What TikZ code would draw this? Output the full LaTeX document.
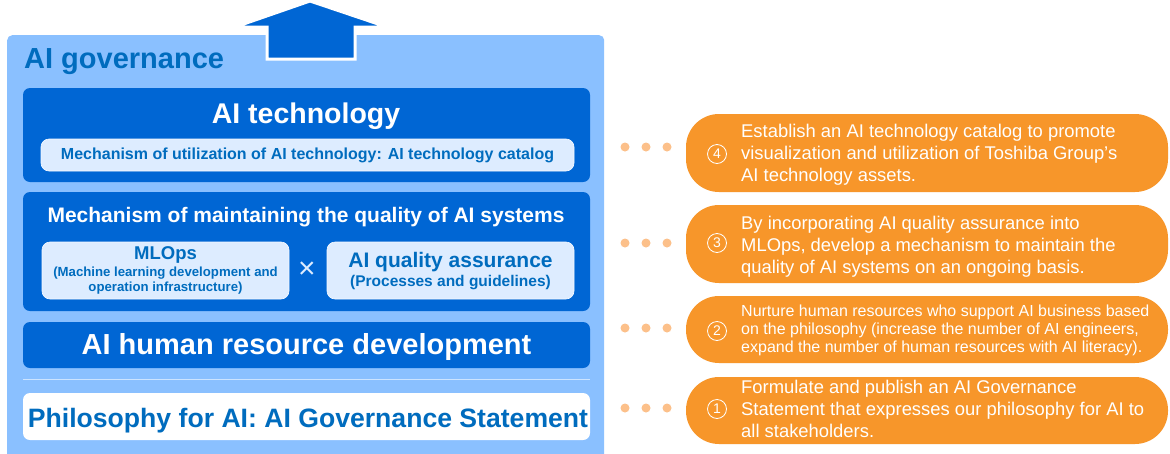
\documentclass[tikz,border=0pt]{standalone}
\usepackage{fontspec}
\setmainfont{Liberation Sans}
\definecolor{govlight}{RGB}{138,192,255}
\definecolor{govdark}{RGB}{0,102,212}
\definecolor{govtext}{RGB}{0,108,190}
\definecolor{govpale}{RGB}{221,236,255}
\definecolor{pillor}{RGB}{247,150,42}
\definecolor{dotor}{RGB}{252,192,138}
\definecolor{sepline}{RGB}{205,228,255}
\begin{document}
\begin{tikzpicture}[x=1pt,y=-1pt,
  darkbox/.style={fill=govdark, rounded corners=7pt, inner sep=0pt, minimum width=567pt},
  palebox/.style={fill=govpale, draw=white!70!govpale, line width=0.6pt, rounded corners=8pt, inner sep=0pt},
  whitebox/.style={fill=white, rounded corners=7pt, inner sep=0pt, minimum width=567pt},
  pill/.style={fill=pillor, rounded corners=33pt, inner sep=0pt, minimum width=482pt},
  pilltext/.style={text=white, anchor=west, align=left, inner sep=0pt},
  numcirc/.style={circle, draw=white, line width=0.8pt, text=white, minimum size=19pt, inner sep=0pt, font=\fontsize{14}{14}\selectfont},
  orangedot/.style={circle, fill=dotor, minimum size=9pt, inner sep=0pt},
  btext/.style={inner sep=0pt, align=center}
]
\useasboundingbox (0,0) rectangle (1170,453);
\fill[white] (0,0) rectangle (1170,453);

% outer AI governance area
\node[fill=govlight, rounded corners=5pt, inner sep=0pt, minimum width=597pt, minimum height=440pt, anchor=north west] (gov) at (7,35) {};
\node[btext, anchor=base west, text=govtext, font=\bfseries\fontsize{29}{30}\selectfont] (govtitle) at (24,68) {AI governance};

% upward arrow
\filldraw[fill=govdark, draw=white, line width=3pt, line join=miter]
  (267,59) -- (267,27) -- (235,27) -- (310,1) -- (387,27) -- (355,27) -- (355,59) -- cycle;

% AI technology block
\node[darkbox, minimum height=94pt] (tech) at (306.5,135) {};
\node[btext, anchor=base, text=white, font=\bfseries\fontsize{28.5}{30}\selectfont] (techtitle) at (306,123) {AI technology};
\node[palebox, minimum width=533pt, minimum height=32pt] (catalog) at (307.5,155) {};
\node[btext, text=govtext, font=\bfseries\fontsize{16}{18}\selectfont] (catalogtext) at (catalog) {Mechanism of utilization of AI technology: AI technology catalog};

% quality block
\node[darkbox, minimum height=119pt] (quality) at (306.5,251.5) {};
\node[btext, anchor=base, text=white, font=\bfseries\fontsize{21}{23}\selectfont] (qualitytitle) at (306,222) {Mechanism of maintaining the quality of AI systems};
\node[palebox, minimum width=247pt, minimum height=57pt] (mlops) at (165.5,270.5) {};
\node[palebox, minimum width=247pt, minimum height=57pt] (aiqa) at (450.5,270.5) {};
\node[btext, text=govtext, font=\bfseries\fontsize{18.5}{20}\selectfont] (mlopstitle) at (165.5,255) {MLOps};
\node[btext, text=govtext, font=\bfseries\fontsize{13.2}{15}\selectfont] (mlopssub) at (165.5,281) {(Machine learning development and\\operation infrastructure)};
\node[btext, text=govtext, font=\bfseries\fontsize{21}{23}\selectfont] (aiqatitle) at (450.5,262) {AI quality assurance};
\node[btext, text=govtext, font=\bfseries\fontsize{15.5}{17}\selectfont] (aiqasub) at (450.5,283) {(Processes and guidelines)};
\node[btext, text=govpale, font=\fontsize{30}{30}\selectfont] (times) at (307,270) {×};

% human resource block
\node[darkbox, minimum height=46pt] (hr) at (306.5,345) {};
\node[btext, anchor=base, text=white, font=\bfseries\fontsize{29}{30}\selectfont] (hrtitle) at (306.5,354) {AI human resource development};

% separator
\coordinate (sepL) at (23,379);
\coordinate (sepR) at (590,379);
\draw[sepline, line width=1pt] (sepL) -- (sepR);

% philosophy block
\node[whitebox, minimum height=47pt] (phil) at (306.5,416.5) {};
\node[btext, anchor=base, text=govtext, font=\bfseries\fontsize{26.6}{28}\selectfont] (philtitle) at (308,427) {Philosophy for AI: AI Governance Statement};

% right side pills
\node[pill, minimum height=78pt] (p4) at (927,153) {};
\node[pill, minimum height=78pt] (p3) at (927,244) {};
\node[pill, minimum height=67pt] (p2) at (927,329.5) {};
\node[pill, minimum height=67pt] (p1) at (927,410.5) {};

\node[numcirc] (c4) at (717,154) {4};
\node[numcirc] (c3) at (717,243) {3};
\node[numcirc] (c2) at (717,331) {2};
\node[numcirc] (c1) at (717,409) {1};

\node[pilltext, font=\fontsize{18.4}{22}\selectfont] (t4) at (741,155) {Establish an AI technology catalog to promote\\visualization and utilization of Toshiba Group’s\\AI technology assets.};
\node[pilltext, font=\fontsize{18.4}{22}\selectfont] (t3) at (741,247) {By incorporating AI quality assurance into\\MLOps, develop a mechanism to maintain the\\quality of AI systems on an ongoing basis.};
\node[pilltext, font=\fontsize{16}{18}\selectfont] (t2) at (741,330) {Nurture human resources who support AI business based\\on the philosophy (increase the number of AI engineers,\\expand the number of human resources with AI literacy).};
\node[pilltext, font=\fontsize{18.4}{22}\selectfont] (t1) at (741,409) {Formulate and publish an AI Governance\\Statement that expresses our philosophy for AI to\\all stakeholders.};

% dots
\foreach \n/\y in {4/147,3/243,2/328,1/408}{
  \node[orangedot] (d\n a) at (625,\y) {};
  \node[orangedot] (d\n b) at (646,\y) {};
  \node[orangedot] (d\n c) at (667,\y) {};
}
\end{tikzpicture}
\end{document}
